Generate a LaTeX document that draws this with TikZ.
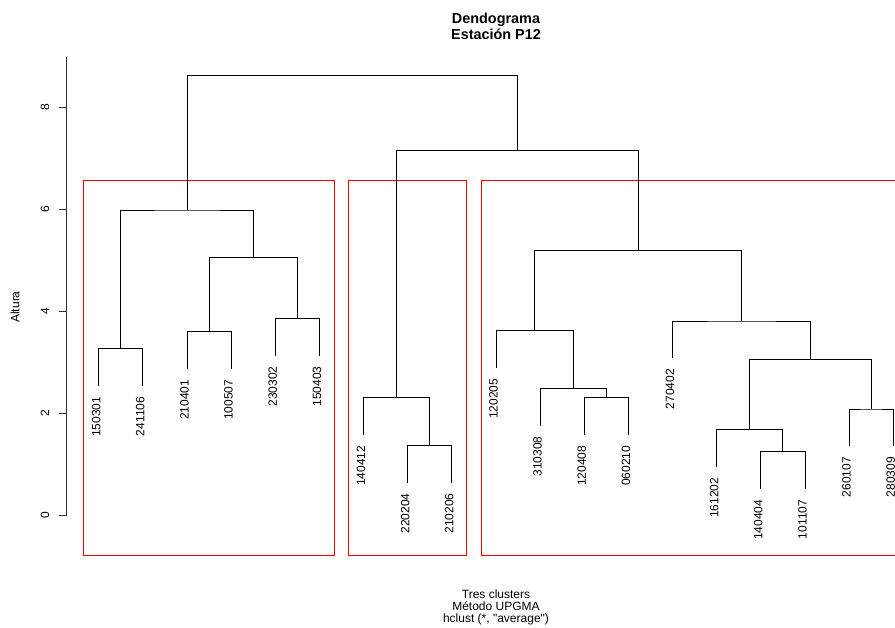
\documentclass[tikz,border=0pt]{standalone}
\usepackage{fontspec}
\setmainfont{Liberation Sans}[Ligatures=TeXOff]
\begin{document}
\begin{tikzpicture}[x=1pt,y=-1pt,
  tree/.style={draw=black, line width=0.8pt},
  cluster/.style={draw=red, line width=0.8pt},
  axisline/.style={draw=black!80, line width=0.8pt},
  leaflab/.style={rotate=90, anchor=east, inner sep=0pt, font=\fontsize{12}{14}\selectfont},
  ticklab/.style={rotate=90, anchor=center, inner sep=0pt, font=\fontsize{12}{14}\selectfont},
  titlelab/.style={anchor=base, inner sep=0pt, font=\fontsize{14.4}{17}\selectfont\bfseries},
  sublab/.style={anchor=base, inner sep=0pt, font=\fontsize{12}{14}\selectfont}]
\useasboundingbox (0,0) rectangle (895,628);
\clip (0,0) rectangle (895,628);
\fill[white] (0,0) rectangle (895,628);

% titles
\node[titlelab] (title1) at (496,23.5) {Dendograma};
\node[titlelab] (title2) at (496,40) {Estación P12};
\node[sublab] (sub1) at (496,598) {Tres clusters};
\node[sublab] (sub2) at (496,610.5) {Método UPGMA};
\node[sublab] (sub3) at (496,622.5) {hclust (*, "average")};

% y axis
\coordinate (ax0) at (66.7,515);
\coordinate (axtop) at (66.7,57.3);
\draw[axisline] (ax0) -- (axtop);
\foreach \h/\yy in {0/515,2/413,4/311,6/209,8/107}{
  \coordinate (tk\h) at (66.7,\yy);
  \coordinate (tl\h) at (59.3,\yy);
  \draw[axisline] (tk\h) -- (tl\h);
  \node[ticklab] (tn\h) at (45,\yy) {\h};
}
\node[rotate=90, inner sep=0pt, font=\fontsize{12}{14}\selectfont] (ylab) at (15,307) {Altura};

% red cluster boxes
\draw[cluster] (83.3,180.7) rectangle (334,555);
\draw[cluster] (348.3,180.7) rectangle (466.7,555);
\draw[cluster] (481,180.7) rectangle (915,555);

% leaf ends
\coordinate (e1) at (98.7,386.2);
\coordinate (e2) at (142.8,386.2);
\coordinate (e3) at (187.0,369.2);
\coordinate (e4) at (231.1,369.2);
\coordinate (e5) at (275.3,355.8);
\coordinate (e6) at (319.4,355.8);
\coordinate (e7) at (363.5,435.2);
\coordinate (e8) at (407.7,482.8);
\coordinate (e9) at (451.8,482.8);
\coordinate (e10) at (496.0,368.2);
\coordinate (e11) at (540.1,425.8);
\coordinate (e12) at (584.2,435.2);
\coordinate (e13) at (628.4,435.2);
\coordinate (e14) at (672.5,358.5);
\coordinate (e15) at (716.7,467.2);
\coordinate (e16) at (760.8,489.2);
\coordinate (e17) at (804.9,489.2);
\coordinate (e18) at (849.1,446.5);
\coordinate (e19) at (893.2,446.5);

% merge points
\coordinate (m1) at (120.75,348.7);
\coordinate (m2) at (209.05,331.7);
\coordinate (m3) at (297.35,318.3);
\coordinate (m4) at (253.2,257.7);
\coordinate (m5) at (186.98,210);
\coordinate (m6) at (429.75,445.3);
\coordinate (m7) at (396.6,397.7);
\coordinate (m8) at (606.3,397.7);
\coordinate (m9) at (573.2,388.3);
\coordinate (m10) at (534.6,330.7);
\coordinate (m11) at (782.85,451.7);
\coordinate (m12) at (749.8,429.7);
\coordinate (m13) at (871.15,409);
\coordinate (m14) at (810.5,359.3);
\coordinate (m15) at (741.5,321);
\coordinate (m16) at (638.05,250.3);
\coordinate (m17) at (517.3,150.7);
\coordinate (m18) at (352.1,75.7);

% tree
\draw[tree] (e1) |- (m1) -| (e2);
\draw[tree] (e3) |- (m2) -| (e4);
\draw[tree] (e5) |- (m3) -| (e6);
\draw[tree] (m2) |- (m4) -| (m3);
\draw[tree] (m1) |- (m5) -| (m4);
\draw[tree] (e8) |- (m6) -| (e9);
\draw[tree] (e7) |- (m7) -| (m6);
\draw[tree] (e12) |- (m8) -| (e13);
\draw[tree] (e11) |- (m9) -| (m8);
\draw[tree] (e10) |- (m10) -| (m9);
\draw[tree] (e16) |- (m11) -| (e17);
\draw[tree] (e15) |- (m12) -| (m11);
\draw[tree] (e18) |- (m13) -| (e19);
\draw[tree] (m12) |- (m14) -| (m13);
\draw[tree] (e14) |- (m15) -| (m14);
\draw[tree] (m10) |- (m16) -| (m15);
\draw[tree] (m7) |- (m17) -| (m16);
\draw[tree] (m5) |- (m18) -| (m17);

% leaf labels
\foreach \i/\lab in {1/150301,2/241106,3/210401,4/100507,5/230302,6/150403,7/140412,8/220204,9/210206,10/120205,11/310308,12/120408,13/060210,14/270402,15/161202,16/140404,17/101107,18/260107,19/280309}{
  \node[leaflab] (l\i) at ([xshift=-2.5pt,yshift=-10.5pt]e\i) {\lab};
}
\end{tikzpicture}
\end{document}
